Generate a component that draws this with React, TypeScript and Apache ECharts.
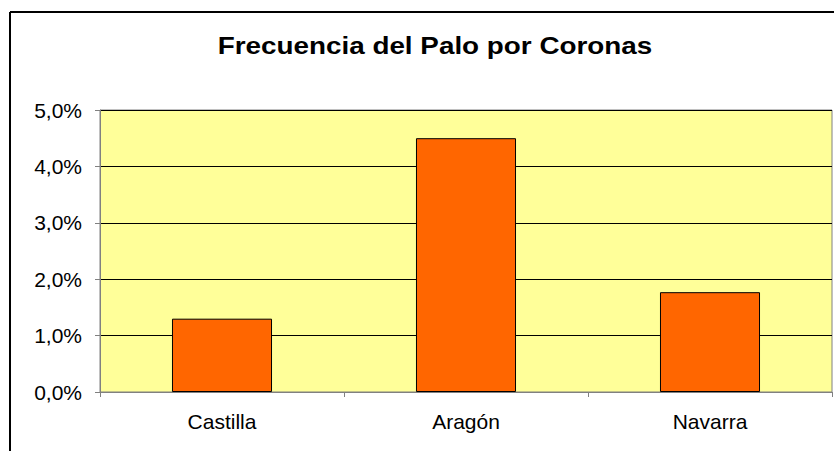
import React, { useEffect, useRef } from "react";
import * as echarts from "echarts";

const categories = ["Castilla", "Aragón", "Navarra"];
const values = [0.013, 0.045, 0.0177];
const titleText = "Frecuencia del Palo por Coronas";

const fmt = (v: number) => (v * 100).toFixed(1).replace(".", ",") + "%";

export default function App() {
  const ref = useRef<HTMLDivElement>(null);
  useEffect(() => {
    if (!ref.current) return;
    const chart = echarts.init(ref.current, null, { renderer: "svg" });
    const font = "'Liberation Sans', Arial, sans-serif";
    chart.setOption({
      animation: false,
      backgroundColor: "#ffffff",
      grid: {
        left: 100,
        top: 110,
        right: 2,
        bottom: 59,
        show: true,
        backgroundColor: "#FFFF99",
        borderColor: "#808080",
        borderWidth: 1,
      },
      graphic: [
        {
          type: "line",
          shape: { x1: 10, y1: 12, x2: 840, y2: 12 },
          style: { stroke: "#000", lineWidth: 2 },
        },
        {
          type: "line",
          shape: { x1: 10, y1: 12, x2: 10, y2: 460 },
          style: { stroke: "#000", lineWidth: 2 },
        },
        {
          type: "text",
          x: 435,
          y: 46,
          scaleX: 1.16,
          style: {
            text: titleText,
            fontFamily: font,
            fontWeight: "bold",
            fontSize: 24,
            fill: "#000",
            textAlign: "center",
            textVerticalAlign: "middle",
          },
        },
      ],
      xAxis: {
        type: "category",
        data: categories,
        axisLine: { show: true, lineStyle: { color: "#808080", width: 1 } },
        axisTick: { show: true, length: 5, alignWithLabel: false, lineStyle: { color: "#808080" } },
        axisLabel: { fontSize: 21, color: "#000", fontFamily: font, margin: 19 },
        splitLine: { show: false },
      },
      yAxis: {
        type: "value",
        min: 0,
        max: 0.05,
        interval: 0.01,
        axisLine: { show: true, lineStyle: { color: "#808080", width: 1 } },
        axisTick: { show: true, length: 5, lineStyle: { color: "#808080" } },
        axisLabel: {
          fontSize: 21,
          color: "#000",
          fontFamily: font,
          margin: 18,
          formatter: (v: number) => fmt(v),
        },
        splitLine: { show: true, lineStyle: { color: "#000", width: 1 } },
      },
      series: [
        {
          type: "bar",
          data: values,
          barWidth: "41%",
          itemStyle: { color: "#FF6600", borderColor: "#000", borderWidth: 1 },
        },
      ],
    });
    return () => chart.dispose();
  }, []);
  return (
    <div
      ref={ref}
      style={{ position: "fixed", left: 0, top: 0, width: 834, height: 451 }}
    />
  );
}
